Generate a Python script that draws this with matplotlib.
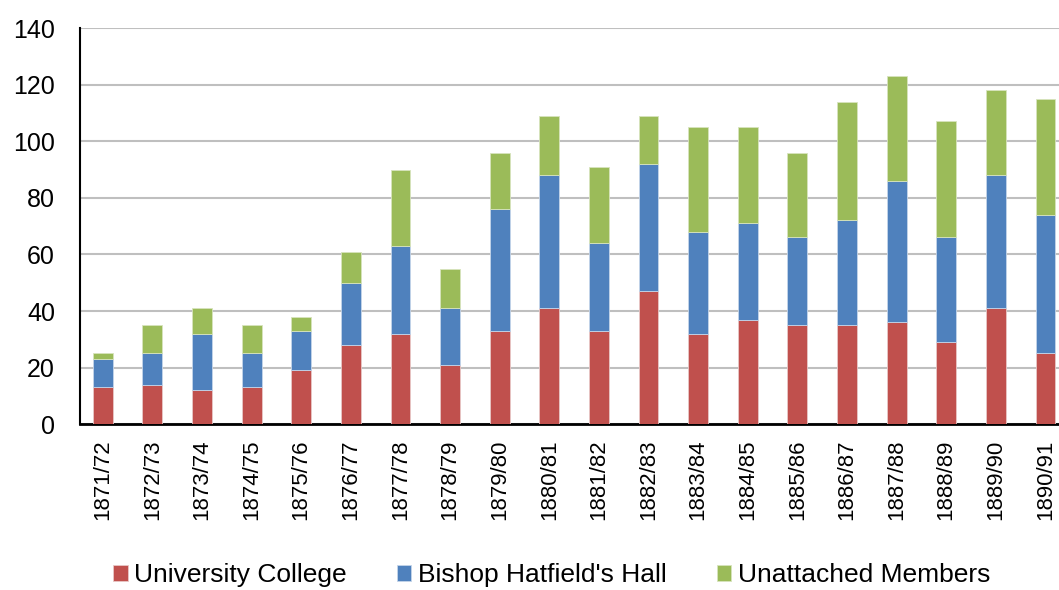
import numpy as np
import matplotlib
matplotlib.use('agg')
import matplotlib.pyplot as plt

plt.rcParams['font.family'] = ['Liberation Sans', 'DejaVu Sans']

years = ['1871/72', '1872/73', '1873/74', '1874/75', '1875/76', '1876/77',
         '1877/78', '1878/79', '1879/80', '1880/81', '1881/82', '1882/83',
         '1883/84', '1884/85', '1885/86', '1886/87', '1887/88', '1888/89',
         '1889/90', '1890/91']
university = [13, 14, 12, 13, 19, 28, 32, 21, 33, 41, 33, 47, 32, 37, 35, 35, 36, 29, 41, 25]
hatfield = [10, 11, 20, 12, 14, 22, 31, 20, 43, 47, 31, 45, 36, 34, 31, 37, 50, 37, 47, 49]
unattached = [2, 10, 9, 10, 5, 11, 27, 14, 20, 21, 27, 17, 37, 34, 30, 42, 37, 41, 30, 41]

fig = plt.figure(figsize=(10.59, 5.90), dpi=100)
ax = fig.add_axes([0.0755, 0.281, 0.937, 0.6715])

x = np.arange(len(years))
w = 0.4
uc = np.array(university)
bh = np.array(hatfield)
un = np.array(unattached)
ax.bar(x, uc, w, color='#C0504D', edgecolor='#E8C8C7', linewidth=0.6,
       label='University College', zorder=3)
ax.bar(x, bh, w, bottom=uc, color='#4F81BD', edgecolor='#C5D5EA', linewidth=0.6,
       label="Bishop Hatfield's Hall", zorder=3)
ax.bar(x, un, w, bottom=uc + bh, color='#9BBB59', edgecolor='#D7E4BD', linewidth=0.6,
       label='Unattached Members', zorder=3)

ax.set_xlim(-0.46, 19.54)
ax.set_ylim(0, 140)
ax.set_yticks(range(0, 141, 20))
ax.set_xticks(x)
ax.set_xticklabels(years, rotation=90, fontsize=16)
ax.tick_params(axis='y', labelsize=18, length=0, pad=18)
ax.tick_params(axis='x', length=0, pad=11)
ax.yaxis.grid(True, color='#BFBFBF', linewidth=1.5, zorder=0)
ax.set_axisbelow(True)
for s in ['top', 'right']:
    ax.spines[s].set_visible(False)
ax.spines['left'].set_linewidth(1.5)
ax.spines['bottom'].set_linewidth(2)

fig.legend(loc='lower center', bbox_to_anchor=(0.521, 0.0), ncol=3, frameon=False,
           fontsize=19, handlelength=0.55, handleheight=0.55, handletextpad=0.25,
           columnspacing=1.9, borderpad=0.1, borderaxespad=0)

plt.savefig('out.png')
